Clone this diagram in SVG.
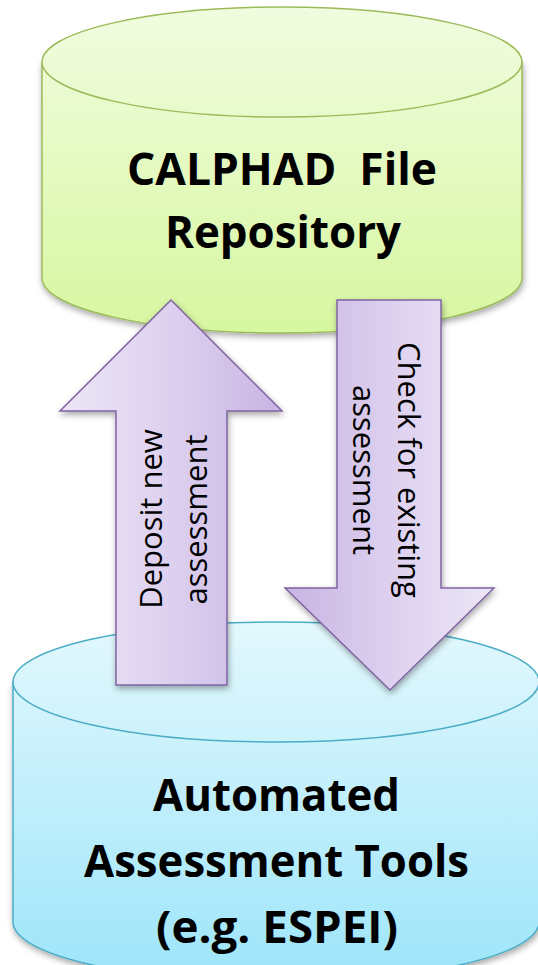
<svg xmlns="http://www.w3.org/2000/svg" width="538" height="965" viewBox="0 0 538 965">
  <style>
    .title { font-family: "Open Sans", "Liberation Sans", sans-serif; font-weight: bold; font-size: 45px; fill: #000; text-anchor: middle; }
    .label { font-family: "Open Sans", "Liberation Sans", sans-serif; font-size: 31px; fill: #000; text-anchor: middle; }
    .green { fill: url(#greenFill); stroke: #9bbb59; stroke-width: 1.5; }
    .blue { fill: url(#blueFill); stroke: #4bacc6; stroke-width: 1.5; }
    .arrow { stroke: #8064a2; stroke-width: 1.5; stroke-linejoin: miter; }
  </style>
  <defs>
    <linearGradient id="greenFill" gradientUnits="userSpaceOnUse" x1="0" y1="7" x2="0" y2="333">
      <stop offset="0" stop-color="#f1fce0"/>
      <stop offset="1" stop-color="#d7f7a0"/>
    </linearGradient>
    <linearGradient id="blueFill" gradientUnits="userSpaceOnUse" x1="0" y1="622" x2="0" y2="965">
      <stop offset="0" stop-color="#e3f8fd"/>
      <stop offset="1" stop-color="#a0e6fa"/>
    </linearGradient>
    <linearGradient id="upFill" x1="0" y1="0" x2="1" y2="0">
      <stop offset="0" stop-color="#ece6f6"/>
      <stop offset="0.5" stop-color="#ddd0ef"/>
      <stop offset="1" stop-color="#c7b4e2"/>
    </linearGradient>
    <linearGradient id="downFill" x1="0" y1="0" x2="1" y2="0">
      <stop offset="0" stop-color="#c7b4e2"/>
      <stop offset="0.5" stop-color="#ddd0ef"/>
      <stop offset="1" stop-color="#ece6f6"/>
    </linearGradient>
    <filter id="shadow" x="-10%" y="-10%" width="120%" height="125%">
      <feGaussianBlur in="SourceAlpha" stdDeviation="3"/>
      <feOffset dx="1" dy="3" result="blur"/>
      <feFlood flood-color="#000" flood-opacity="0.35"/>
      <feComposite in2="blur" operator="in"/>
      <feMerge>
        <feMergeNode/>
        <feMergeNode in="SourceGraphic"/>
      </feMerge>
    </filter>
  </defs>

  <!-- repository cylinder -->
  <g id="repository">
    <path class="green" filter="url(#shadow)" d="M42,62 V278 A240,55 0 0 0 522,278 V62 Z"/>
    <ellipse class="green" cx="282" cy="62" rx="240" ry="55"/>
    <text class="title" x="282" y="185" textLength="310" lengthAdjust="spacingAndGlyphs" xml:space="preserve">CALPHAD  File</text>
    <text class="title" x="283" y="248" textLength="236" lengthAdjust="spacingAndGlyphs">Repository</text>
  </g>

  <!-- assessment tools cylinder -->
  <g id="tools">
    <path class="blue" filter="url(#shadow)" d="M13,682 V922 A263,60 0 0 0 539,922 V682 Z"/>
    <ellipse class="blue" cx="276" cy="682" rx="263" ry="60"/>
    <text class="title" x="276.5" y="811" textLength="247" lengthAdjust="spacingAndGlyphs">Automated</text>
    <text class="title" x="276.5" y="877" textLength="385" lengthAdjust="spacingAndGlyphs">Assessment Tools</text>
    <text class="title" x="277" y="943" textLength="242" lengthAdjust="spacingAndGlyphs">(e.g. ESPEI)</text>
  </g>

  <!-- flow arrows between the two stores -->
  <g id="connectors">
    <g id="deposit">
      <path class="arrow" fill="url(#upFill)" filter="url(#shadow)" d="M171,300 L282,411 L227,411 L227,685 L116,685 L116,411 L60,411 Z"/>
      <text class="label" transform="translate(162,519) rotate(-90)">Deposit new</text>
      <text class="label" transform="translate(207,519.5) rotate(-90)">assessment</text>
    </g>
    <g id="check">
      <path class="arrow" fill="url(#downFill)" filter="url(#shadow)" d="M337,300 L441,300 L441,588 L494,588 L390,690 L285,588 L337,588 Z"/>
      <text class="label" transform="translate(398,470) rotate(90)">Check for existing</text>
      <text class="label" transform="translate(353,470) rotate(90)">assessment</text>
    </g>
  </g>
</svg>
